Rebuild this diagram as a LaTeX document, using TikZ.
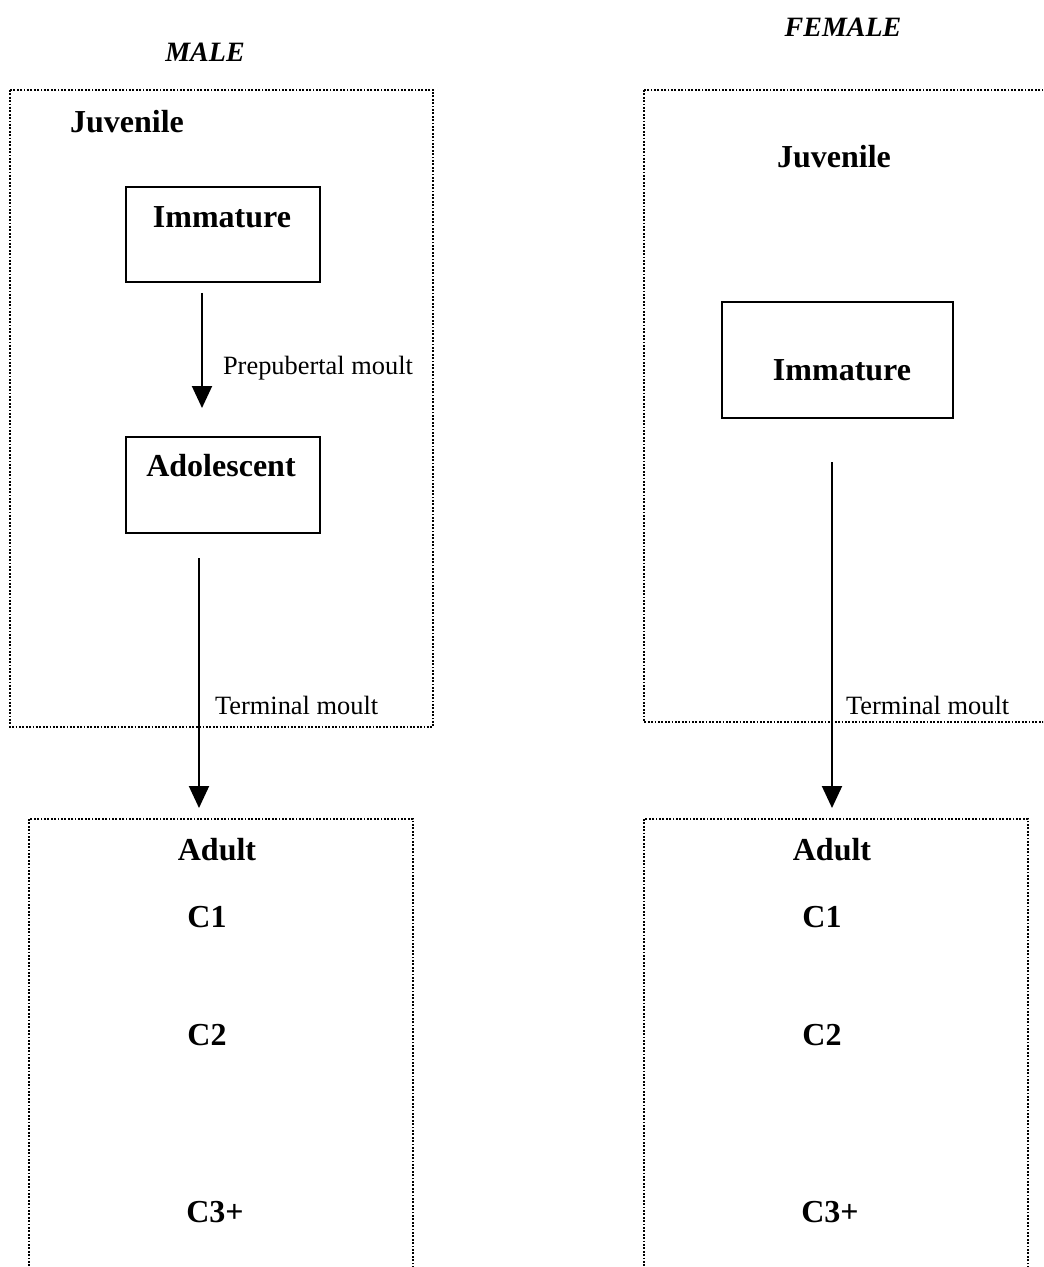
\documentclass[tikz,border=0pt]{standalone}
\usepackage{fontspec}
\setmainfont{Liberation Serif}
\usetikzlibrary{arrows.meta}

\begin{document}
\begin{tikzpicture}[x=0.5pt, y=-0.5pt,
    frame/.style={line width=1.3pt, dash pattern=on 0.9pt off 0.8pt},
    stage/.style={draw, line width=0.9pt, rectangle, inner sep=0pt, anchor=north west},
    sex/.style={font=\fontsize{14}{16}\selectfont\bfseries\itshape},
    heading/.style={font=\fontsize{16}{19}\selectfont\bfseries},
    moult/.style={font=\fontsize{13.2}{15}\selectfont, anchor=west},
    arr/.style={line width=1pt, -{Triangle[width=10pt, length=11pt]}}]
  \useasboundingbox (0,0) rectangle (1043,1267);
  \clip (0,0) rectangle (1043,1267);

  % male side
  \node[sex] (male) at (205,52) {MALE};
  \draw[frame] (10,90) rectangle (433,727);
  \node[heading] (juvM) at (127,122) {Juvenile};
  \node[stage, minimum width=97pt, minimum height=47.5pt] (immM) at (125,186) {};
  \node[heading] (immMlab) at (222,217) {Immature};
  \node[stage, minimum width=97pt, minimum height=48pt] (adoM) at (125,436) {};
  \node[heading] (adoMlab) at (221,466) {Adolescent};
  \coordinate (prepS) at (202,293);
  \coordinate (prepE) at (202,408);
  \draw[arr] (prepS) -- (prepE);
  \node[moult] (prep) at (216,368) {Prepubertal moult};
  \coordinate (termMS) at (199,558);
  \coordinate (termME) at (199,808);
  \draw[arr] (termMS) -- (termME);
  \node[moult] (termM) at (208,705) {Terminal moult};

  % female side
  \node[sex] (female) at (843,27) {FEMALE};
  \draw[frame] (644,90) rectangle (1060,722);
  \node[heading] (juvF) at (834,157) {Juvenile};
  \node[stage, minimum width=115.5pt, minimum height=58pt] (immF) at (721,301) {};
  \node[heading] (immFlab) at (842,370) {Immature};
  \coordinate (termFS) at (832,462);
  \coordinate (termFE) at (832,808);
  \draw[arr] (termFS) -- (termFE);
  \node[moult] (termF) at (839,705) {Terminal moult};

  % adult boxes
  \foreach \dx/\s in {0/M, 615/F} {
    \draw[frame] ({29+\dx},819) rectangle ({413+\dx},1290);
    \node[heading] (adult\s) at ({217+\dx},850) {Adult};
    \node[heading] (cone\s) at ({207+\dx},917) {C1};
    \node[heading] (ctwo\s) at ({207+\dx},1035) {C2};
    \node[heading] (cthree\s) at ({215+\dx},1212) {C3+};
  }
\end{tikzpicture}
\end{document}
